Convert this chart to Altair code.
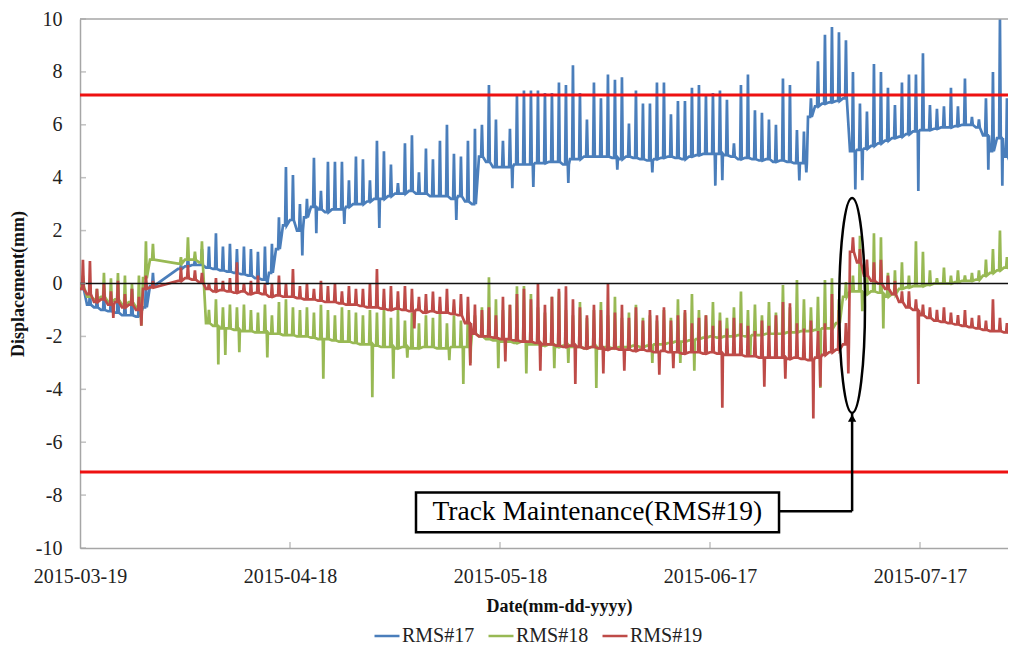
import altair as alt
import pandas as pd
from datetime import datetime, timedelta

FONT = "Liberation Serif"
START = datetime(2015, 3, 19)

series_names = ["RMS#17", "RMS#18", "RMS#19"]
series_colors = ["#4a7ebb", "#98b954", "#be4b48"]

x_tick_dates = ["2015-03-19", "2015-04-18", "2015-05-18", "2015-06-17", "2015-07-17"]
y_ticks = [-10, -8, -6, -4, -2, 0, 2, 4, 6, 8, 10]
limit_values = [7.13, -7.13]
zero_value = [0]
top_value = [10]

# day 0 = 2015-03-19; None = no record. daily baseline, daily peak, occasional dips
rms17_base = [
    -0.2, -0.8, -0.9, -1.0, -1.05, -1.1, -1.2, -1.2, -1.25, -0.9,
    -0.1, None, None, None, 0.55, 0.65, 0.7, 0.7, 0.6, 0.55,
    0.5, 0.45, 0.4, 0.35, 0.3, 0.2, 0.15, 0.4, 1.3, 2.2,
    2.4, 2.0, 2.5, 2.9, 2.8, 2.7, 2.8, 2.8, 2.9, 3.0,
    3.0, 3.1, 3.2, 3.2, 3.3, 3.4, 3.4, 3.5, 3.4, 3.4,
    3.3, 3.3, 3.3, 3.2, 3.3, 3.1, 3.0, 4.8, 4.6, 4.4,
    4.4, 4.4, 4.5, 4.5, 4.5, 4.55, 4.55, 4.6, 4.6, 4.5,
    4.7, 4.7, 4.8, 4.8, 4.8, 4.8, 4.75, 4.7, 4.8, 4.75,
    4.7, 4.65, 4.7, 4.75, 4.8, 4.75, 4.7, 4.8, 4.85, 4.9,
    4.9, 4.9, 4.85, 4.8, 4.7, 4.75, 4.7, 4.65, 4.7, 4.6,
    4.65, 4.6, 4.55, 4.55, 6.3, 6.7, 6.8, 6.85, 6.9, 7.0,
    5.0, 5.05, 5.1, 5.2, 5.3, 5.4, 5.5, 5.55, 5.65, 5.75,
    5.8, 5.8, 5.85, 5.9, 5.9, 5.95, 6.0, 6.0, 5.9, 5.6,
    5.0, 5.5, 4.8, 4.5,
]
rms17_peak = [
    0.2, -0.4, -0.5, -0.3, -0.6, 0.0, -0.5, -0.2, -0.7, 0.0,
    0.4, None, None, None, 0.7, 1.0, 0.9, 1.3, 1.4, 1.9,
    1.4, 1.5, 1.3, 1.4, 1.3, 1.2, 1.4, 1.5, 2.5, 4.4,
    4.1, 3.0, 3.2, 4.75, 3.5, 4.6, 4.6, 4.6, 3.9, 4.8,
    4.7, 3.9, 5.4, 5.0, 4.5, 3.8, 5.3, 5.6, 4.2, 5.1,
    4.7, 5.4, 6.0, 4.9, 4.8, 5.4, 5.85, 6.0, 7.5, 6.2,
    5.4, 5.85, 7.1, 7.3, 7.3, 7.3, 7.2, 7.2, 7.6, 7.5,
    8.25, 7.2, 6.2, 7.6, 7.0, 7.9, 7.7, 7.8, 6.05, 7.3,
    6.8, 6.8, 7.6, 7.6, 6.4, 6.9, 6.9, 7.4, 7.5, 7.15,
    7.2, 7.3, 6.95, 5.3, 7.5, 7.9, 6.55, 6.45, 6.2, 6.0,
    7.75, 7.5, 5.8, 5.75, 7.0, 8.4, 9.4, 9.7, 9.5, 9.2,
    8.0, 6.8, 6.5, 8.3, 8.0, 7.4, 6.75, 7.6, 7.9, 7.9,
    8.7, 6.75, 6.6, 6.7, 7.4, 6.7, 7.75, 6.3, 6.2, 7.0,
    8.0, 10.0, 7.0, 8.0,
]
rms17_dips = {26: -0.05, 31: 1.06, 33: 1.9, 37: 2.25, 42: 2.1, 53: 2.4, 61: 3.6,
              64: 3.65, 69: 3.8, 76: 4.3, 81: 4.2, 90: 3.7, 91: 3.9, 102: 3.9,
              103: 4.2, 110: 3.55, 111: 3.9, 119: 3.5, 129: 4.3, 131: 3.7, 133: 3.06}

rms18_base = [
    -0.1, -0.5, -0.6, -0.5, -0.7, -0.6, -0.8, -0.7, -0.9, 0.2,
    0.9, None, None, None, 0.75, 0.9, 0.9, 0.8, -1.5, -1.6,
    -1.7, -1.7, -1.75, -1.8, -1.8, -1.85, -1.85, -1.9, -1.9, -1.95,
    -1.95, -2.0, -2.0, -2.05, -2.1, -2.1, -2.15, -2.2, -2.2, -2.25,
    -2.3, -2.3, -2.35, -2.4, -2.4, -2.45, -2.4, -2.45, -2.45, -2.4,
    -2.4, -2.45, -2.45, -2.4, -2.4, -2.4, -1.9, -2.0, -2.1, -2.15,
    -2.2, -2.2, -2.25, -2.2, -2.3, -2.3, -2.35, -2.3, -2.4, -2.35,
    -2.4, -2.4, -2.45, -2.4, -2.45, -2.4, -2.45, -2.4, -2.4, -2.35,
    -2.4, -2.35, -2.3, -2.3, -2.25, -2.2, -2.2, -2.15, -2.1, -2.05,
    -2.0, -2.05, -2.0, -2.0, -1.95, -2.0, -1.95, -1.95, -1.9, -1.9,
    -1.9, -1.85, -1.85, -1.8, -1.8, -1.75, -1.7, -1.7, -1.5, -0.5,
    -0.3, -0.3, -0.4, -0.3, -0.35, -0.5, -0.4, -0.2, -0.15, -0.1,
    -0.1, -0.05, 0.0, 0.0, 0.0, 0.05, 0.1, 0.1, 0.15, 0.3,
    0.4, 0.5, 0.6, 0.5,
]
rms18_peak = [
    0.3, 0.0, -0.2, 0.4, 0.2, 0.4, 0.3, 0.0, 0.3, 1.6,
    1.5, None, None, None, 1.0, 1.75, 1.2, 1.6, -1.0, -0.6,
    -0.9, -0.8, -0.9, -0.8, -1.0, -1.1, -0.8, -1.2, -0.7, -0.6,
    -0.9, -1.0, -0.9, -1.1, -0.8, -1.0, -1.2, -0.9, -1.0, -1.1,
    -1.2, -1.0, -1.1, -0.9, -1.3, -1.0, -1.4, -1.1, -1.5, -1.2,
    -1.3, -1.0, -1.5, -1.2, -1.4, -1.1, -1.2, -0.9, 0.24, -0.6,
    -1.0, -0.8, -0.1, -0.1, -0.4, -0.9, -1.1, -0.5, -0.3, -1.0,
    -1.2, -0.7, -1.3, -1.0, -0.7, -1.2, -0.5, -1.3, -1.1, -0.8,
    -1.3, -1.2, -1.4, -1.0, -1.3, -0.6, -1.1, -0.4, -1.0, -1.2,
    -0.7, -1.1, -1.3, -0.9, -0.3, -1.0, -0.8, -1.2, -0.7, -1.1,
    -0.06, -0.9, 0.13, -0.6, -0.9, -0.5, 0.13, 0.2, -0.6, 0.05,
    0.3, 1.8, 0.6, 1.9, 1.75, 0.4, 0.5, 0.8, 0.3, 1.6,
    1.2, 0.5, 0.2, 0.6, 0.3, 0.5, 0.3, 0.4, 0.5, 0.9,
    1.3, 2.0, 1.0, 1.5,
]
rms18_dips = {8: -1.6, 19: -3.06, 20: -2.7, 22: -2.6, 26: -2.8, 34: -3.6, 41: -4.3,
              44: -3.6, 46: -2.8, 52: -2.9, 54: -3.8, 55: -3.0, 59: -3.2, 63: -3.4,
              67: -3.2, 69: -3.0, 73: -3.95, 81: -3.0, 85: -3.0, 87: -3.3, 95: -2.7,
              105: -3.95, 111: -1.05, 114: -1.7}

rms19_base = [
    -0.2, -0.4, -0.7, -0.6, -0.8, -0.7, -0.9, -0.8, -1.0, -0.2,
    -0.15, None, None, None, 0.1, 0.2, 0.15, 0.05, -0.2, -0.3,
    -0.25, -0.3, -0.35, -0.3, -0.4, -0.35, -0.4, -0.5, -0.45, -0.5,
    -0.5, -0.55, -0.6, -0.6, -0.65, -0.7, -0.7, -0.75, -0.8, -0.8,
    -0.85, -0.9, -0.9, -0.95, -1.0, -0.95, -1.0, -1.05, -1.0, -1.1,
    -1.05, -1.1, -1.1, -1.15, -1.2, -1.5, -1.9, -2.0, -2.0, -2.05,
    -2.1, -2.1, -2.15, -2.2, -2.2, -2.25, -2.3, -2.3, -2.35, -2.4,
    -2.35, -2.4, -2.45, -2.4, -2.45, -2.5, -2.45, -2.5, -2.5, -2.55,
    -2.5, -2.55, -2.6, -2.55, -2.6, -2.6, -2.65, -2.6, -2.6, -2.65,
    -2.6, -2.65, -2.7, -2.7, -2.7, -2.75, -2.75, -2.8, -2.8, -2.8,
    -2.8, -2.85, -2.8, -2.85, -2.9, -2.8, -2.7, -2.6, -2.5, -2.3,
    1.2, 0.8, 0.3, 0.1, 0.0, -0.2, -0.4, -0.7, -0.9, -1.0,
    -1.2, -1.3, -1.4, -1.45, -1.5, -1.55, -1.6, -1.65, -1.7, -1.75,
    -1.8, -1.8, -1.85, -1.9,
]
rms19_peak = [
    0.9, 0.85, -0.2, 0.0, -0.3, 0.1, -0.4, -0.2, -0.5, 0.3,
    0.1, None, None, None, 0.6, 0.7, 0.5, 0.4, 0.0, 0.2,
    0.1, 0.2, 0.8, 0.0, 0.1, 0.3, 0.0, 0.0, 0.3, 0.0,
    0.55, -0.1, 0.0, -0.2, 0.1, -0.1, 0.0, -0.3, -0.1, -0.2,
    -0.2, 0.0, 0.55, -0.2, -0.1, -0.3, -0.1, -0.2, -0.5, -0.4,
    -0.3, -0.5, -0.2, -0.6, -0.4, -0.5, -0.8, -1.0, -0.9, -1.2,
    -0.5, -0.8, -0.4, -0.2, -0.6, 0.0, -0.8, -0.5, -0.2, -0.1,
    -0.6, -0.9, -1.2, -0.8, -1.0, 0.0, -1.1, -0.8, -1.3, -0.9,
    -1.4, -1.0, -1.2, -0.9, -1.4, -1.2, -1.0, -1.5, -1.3, -1.2,
    -1.6, -1.4, -1.7, -1.3, -1.5, -1.6, -1.8, -1.4, -1.6, -1.2,
    -0.7, -0.75, -1.5, -1.7, -1.4, -1.8, -1.5, -0.4, -1.0, -1.5,
    1.75, 1.3, 0.9, 0.8, 0.9, 0.3, 0.1, -0.3, -0.3, -0.6,
    -0.8, -0.9, -1.0, -0.9, -1.1, -1.2, -1.0, -1.3, -1.2, -1.4,
    -0.6, -1.3, -1.5, -1.4,
]
rms19_dips = {4: -1.3, 8: -1.6, 47: -1.7, 55: -3.1, 60: -2.95, 65: -3.3, 70: -3.8,
              74: -3.4, 77: -3.3, 82: -3.45, 84: -3.2, 91: -4.7, 97: -3.9, 100: -3.6,
              104: -5.1, 105: -3.9, 109: -3.4, 119: -3.8}

# annotation anchors (days after start, mm)
ellipse_day, ellipse_mm = 110.3, -0.83
arrow_tip_mm, connector_mm = -4.9, -8.61
box_left_day, box_right_day, box_top_mm, box_bottom_mm = 48.0, 99.86, -7.9, -9.4
label_day, label_mm = 73.9, -8.65
annotation_text = "Track Maintenance(RMS#19)"


def day(d):
    return START + timedelta(days=d)


rows = []
for name, base, peak, dips in [
    (series_names[0], rms17_base, rms17_peak, rms17_dips),
    (series_names[1], rms18_base, rms18_peak, rms18_dips),
    (series_names[2], rms19_base, rms19_peak, rms19_dips),
]:
    for d, (b, p) in enumerate(zip(base, peak)):
        if b is None:
            continue
        pts = [(0.0, b), (0.30, b), (0.42, p), (0.54, b)]
        if d in dips:
            pts += [(0.68, b), (0.76, dips[d]), (0.84, b)]
        for off, v in pts:
            rows.append({"t": day(d + off), "v": v, "series": name})
df = pd.DataFrame(rows)

x_scale = alt.Scale(domain=[alt.DateTime(year=2015, month=3, date=19),
                            alt.DateTime(year=2015, month=7, date=29, hours=13, minutes=41)])
y_scale = alt.Scale(domain=[-10, 10])

x_axis = alt.Axis(
    values=[alt.DateTime(year=int(s[:4]), month=int(s[5:7]), date=int(s[8:])) for s in x_tick_dates],
    format="%Y-%m-%d", title="Date(mm-dd-yyyy)", grid=False, tickSize=0, labelPadding=18,
    labelFont=FONT, labelFontSize=20, labelColor="#222", labelFlush=False, labelOverlap=False,
    titleFont=FONT, titleFontSize=18, titleFontWeight="bold", titleColor="#111",
    titlePadding=11, titleX=479, domainColor="#a6a6a6", domainWidth=1.5,
)
y_axis = alt.Axis(
    values=y_ticks, title="Displacement(mm)", grid=False, tickSize=0, labelPadding=18,
    labelExpr="'' + datum.value", labelFont=FONT, labelFontSize=20, labelColor="#222",
    titleFont=FONT, titleFontSize=18, titleFontWeight="bold", titleColor="#111",
    titlePadding=8, domainColor="#a6a6a6", domainWidth=1.5,
)


def X():
    return alt.X("t:T", scale=x_scale, axis=x_axis)


def Y():
    return alt.Y("v:Q", scale=y_scale, axis=y_axis)


lines = alt.Chart(df).mark_line(strokeWidth=2.7, clip=True).encode(
    x=X(),
    y=Y(),
    color=alt.Color(
        "series:N",
        scale=alt.Scale(domain=series_names, range=series_colors),
        legend=alt.Legend(
            orient="none", legendX=293, legendY=603, direction="horizontal", title=None,
            symbolType="stroke", symbolSize=625, symbolStrokeWidth=2.5,
            labelFont=FONT, labelFontSize=20, labelColor="#222", labelOffset=1,
            columnPadding=8, padding=0,
        ),
    ),
)

limits = alt.Chart(pd.DataFrame({"v": limit_values})).mark_rule(
    color="#ee1111", strokeWidth=3).encode(y=Y())
zero = alt.Chart(pd.DataFrame({"v": zero_value})).mark_rule(
    color="#111111", strokeWidth=1.5).encode(y=Y())
top = alt.Chart(pd.DataFrame({"v": top_value})).mark_rule(
    color="#a6a6a6", strokeWidth=1.5).encode(y=Y())

xt_df = pd.DataFrame({"t": [pd.Timestamp(s) for s in x_tick_dates[1:]], "v": [-10] * (len(x_tick_dates) - 1)})
x_ticks = alt.Chart(xt_df).mark_tick(orient="vertical", size=6, yOffset=-3, thickness=1.5,
                                     color="#a6a6a6").encode(x=X(), y=Y())
yt_df = pd.DataFrame({"t": [START] * len(y_ticks), "v": y_ticks})
y_ticks_layer = alt.Chart(yt_df).mark_tick(orient="horizontal", size=6, xOffset=3, thickness=1.5,
                                           color="#a6a6a6").encode(x=X(), y=Y())

box_df = pd.DataFrame({"t": [day(box_left_day)], "t2": [day(box_right_day)],
                       "v": [box_top_mm], "v2": [box_bottom_mm]})
box = alt.Chart(box_df).mark_rect(fill="white", stroke="black", strokeWidth=2.5).encode(
    x=X(), x2="t2:T", y=Y(), y2="v2:Q")
label = alt.Chart(pd.DataFrame({"t": [day(label_day)], "v": [label_mm], "txt": [annotation_text]})).mark_text(
    font=FONT, fontSize=27.5, color="black").encode(x=X(), y=Y(), text="txt:N")
conn_h = alt.Chart(pd.DataFrame({"t": [day(box_right_day)], "t2": [day(ellipse_day)], "v": [connector_mm]})).mark_rule(
    color="black", strokeWidth=2.5).encode(x=X(), x2="t2:T", y=Y())
conn_v = alt.Chart(pd.DataFrame({"t": [day(ellipse_day)], "v": [connector_mm], "v2": [arrow_tip_mm]})).mark_rule(
    color="black", strokeWidth=2.5).encode(x=X(), y=Y(), y2="v2:Q")
arrow = alt.Chart(pd.DataFrame({"t": [day(ellipse_day)], "v": [arrow_tip_mm]})).mark_point(
    shape="triangle-up", filled=True, size=70, color="black", opacity=1, yOffset=5).encode(x=X(), y=Y())
ellipse_path = ("M0,-1 C0.0663,-1 0.12,-0.5523 0.12,0 C0.12,0.5523 0.0663,1 0,1 "
                "C-0.0663,1 -0.12,0.5523 -0.12,0 C-0.12,-0.5523 -0.0663,-1 0,-1 Z")
ellipse = alt.Chart(pd.DataFrame({"t": [day(ellipse_day)], "v": [ellipse_mm]})).mark_point(
    shape=ellipse_path, filled=False, size=46225, color="black", strokeWidth=2.5, opacity=1).encode(x=X(), y=Y())

chart = alt.layer(
    lines, limits, zero, top, x_ticks, y_ticks_layer, box, label, conn_h, conn_v, arrow, ellipse
).properties(
    width=928, height=529,
    padding={"left": 72, "top": 11, "right": 0, "bottom": 100},
    autosize=alt.AutoSizeParams(type="none"),
    background="white",
).configure_view(stroke=None)

chart.save("out.html", embed_options={"renderer": "svg", "actions": False})
